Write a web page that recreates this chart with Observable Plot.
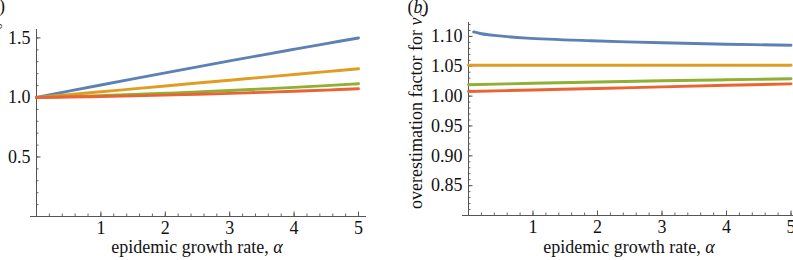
<!DOCTYPE html>
<html>
<head>
<meta charset="utf-8">
<script src="https://cdn.jsdelivr.net/npm/d3@7"></script>
<script src="https://cdn.jsdelivr.net/npm/@observablehq/plot@0.6"></script>
<style>
  body { margin: 0; background: #fff; }
  #fig { position: relative; width: 793px; height: 260px; overflow: hidden;
         font-family: "Liberation Serif", "Times New Roman", serif; }
  #fig svg { position: absolute; top: 0; overflow: visible; }
  #fig svg text { font-family: "Liberation Serif", "Times New Roman", serif !important; }
</style>
</head>
<body>
<div id="fig"></div>
<script>
// ---- data -------------------------------------------------------------
// panel (a): overestimation factor against epidemic growth rate
const alphaA   = [0, 0.5, 1, 1.5, 2, 2.5, 3, 3.5, 4, 4.5, 5];
const factorA1 = [1.000, 1.0527, 1.1048, 1.1563, 1.2072, 1.2575, 1.3072, 1.3563, 1.4048, 1.4527, 1.500];
const factorA2 = [1.000, 1.024, 1.048, 1.072, 1.096, 1.121, 1.145, 1.169, 1.193, 1.217, 1.241];
const factorA3 = [1.000, 1.0075, 1.0158, 1.0251, 1.0352, 1.0463, 1.0582, 1.0711, 1.0848, 1.0995, 1.115];
const factorA4 = [1.000, 1.0037, 1.0082, 1.0135, 1.0196, 1.0265, 1.0342, 1.0427, 1.052, 1.0621, 1.073];

// panel (b): overestimation factor for the critical vaccination coverage v_c
const alphaB1  = [0.08, 0.2, 0.4, 0.9, 1.9, 3, 4, 5];
const factorB1 = [1.1075, 1.1045, 1.1017, 1.0972, 1.0928, 1.0894, 1.0870, 1.0852];
const alphaB   = [0, 1, 2, 3, 4, 5];
const factorB2 = [1.0517, 1.0517, 1.0517, 1.0517, 1.0517, 1.0517];
const factorB3 = [1.0190, 1.0215, 1.0237, 1.0257, 1.0274, 1.0290];
const factorB4 = [1.0077, 1.0103, 1.0128, 1.0155, 1.0181, 1.0206];

const seriesNames  = ["curve 1", "curve 2", "curve 3", "curve 4"];
const seriesColors = ["#5E81B5", "#E19C24", "#8FB032", "#EB6235"];

// ---- ticks ------------------------------------------------------------
const xTicks  = [1, 2, 3, 4, 5];
const xMinor  = d3.range(1, 26).map(i => +(i * 0.2).toFixed(2));
const yTicksA = [0.5, 1.0, 1.5];
const yMinorA = d3.range(1, 16).map(i => +(i * 0.1).toFixed(2));
const yTicksB = [0.85, 0.90, 0.95, 1.00, 1.05, 1.10];
const yMinorB = d3.range(81, 113).map(i => +(i * 0.01).toFixed(2));

const toRows = (xs, ys, name) => xs.map((x, i) => ({alpha: x, value: ys[i], series: name}));

const rowsA = [
  ...toRows(alphaA, factorA1, seriesNames[0]),
  ...toRows(alphaA, factorA2, seriesNames[1]),
  ...toRows(alphaA, factorA3, seriesNames[2]),
  ...toRows(alphaA, factorA4, seriesNames[3])
];
const rowsB = [
  ...toRows(alphaB1, factorB1, seriesNames[0]),
  ...toRows(alphaB,  factorB2, seriesNames[1]),
  ...toRows(alphaB,  factorB3, seriesNames[2]),
  ...toRows(alphaB,  factorB4, seriesNames[3])
];

const serif = '"Liberation Serif", "Times New Roman", serif';
const axisColor = "#555";
const textColor = "#111";
const H = 260;

function panel(o) {
  const fw = o.width - o.marginLeft - o.marginRight;
  const fh = H - o.marginTop - o.marginBottom;
  return Plot.plot({
    width: o.width, height: H,
    marginLeft: o.marginLeft, marginRight: o.marginRight,
    marginTop: o.marginTop, marginBottom: o.marginBottom,
    style: {fontFamily: serif, fontSize: "18px",
            color: textColor, background: "transparent", overflow: "visible"},
    x: {domain: [0, 5]},
    y: {domain: o.yDomain},
    color: {domain: seriesNames, range: seriesColors},
    marks: [
      // axis lines, crossing at the origin
      Plot.ruleX([0], {stroke: axisColor, strokeWidth: 1, insetTop: o.axisTopInset}),
      Plot.ruleY([o.yDomain[0]], {stroke: axisColor, strokeWidth: 1, insetLeft: -6, insetRight: -8}),
      // inward tick marks
      Plot.tickX(xMinor, {x: d => d, stroke: axisColor, strokeWidth: 0.9, insetTop: fh - 2.5}),
      Plot.tickX(xTicks, {x: d => d, stroke: axisColor, strokeWidth: 1, insetTop: fh - 4.5}),
      Plot.tickY(o.yMinor, {y: d => d, stroke: axisColor, strokeWidth: 0.9, insetRight: fw - 2.5}),
      Plot.tickY(o.yTicks, {y: d => d, stroke: axisColor, strokeWidth: 1, insetRight: fw - 4.5}),
      // tick labels
      Plot.axisX({ticks: xTicks, tickSize: 0, tickPadding: 5, label: null, fontVariant: "normal",
                  tickFormat: d3.format("d"), fontFamily: serif, fontSize: 18, fill: textColor}),
      Plot.axisY({ticks: o.yTicks, tickSize: 0, tickPadding: 6, label: null, fontVariant: "normal",
                  tickFormat: d3.format(o.yFormat), fontFamily: serif, fontSize: 18, fill: textColor}),
      // curves
      Plot.line(o.rows, {x: "alpha", y: "value", z: "series", stroke: "series",
                         strokeWidth: 2.9, curve: "catmull-rom"})
    ]
  });
}

const fig = d3.select("#fig");

// panel (a)
const svgA = panel({
  width: 400, marginLeft: 36, marginRight: 42, marginTop: 29, marginBottom: 44,
  yDomain: [0, 1.571], yTicks: yTicksA, yMinor: yMinorA, yFormat: ".1f",
  axisTopInset: 0, rows: rowsA
});
svgA.style.left = "0px";
fig.node().appendChild(svgA);

// panel (b)
const svgB = panel({
  width: 393, marginLeft: 68, marginRight: 2.5, marginTop: 24, marginBottom: 45,
  yDomain: [0.80, 1.12], yTicks: yTicksB, yMinor: yMinorB, yFormat: ".2f",
  axisTopInset: -2, rows: rowsB
});
svgB.style.left = "400px";
fig.node().appendChild(svgB);

function xLabel(svg, cx, y) {
  const t = d3.select(svg).append("text")
    .attr("x", cx).attr("y", y).attr("text-anchor", "middle")
    .attr("fill", textColor).attr("font-size", 18);
  t.append("tspan").text("epidemic growth rate, ");
  t.append("tspan").attr("font-style", "italic").text("α");
}

function yLabel(svg, x, y, symbol, sub) {
  const t = d3.select(svg).append("text")
    .attr("transform", `translate(${x},${y}) rotate(-90)`)
    .attr("text-anchor", "middle")
    .attr("fill", textColor).attr("font-size", 18);
  t.append("tspan").text("overestimation factor for ");
  t.append("tspan").attr("font-style", "italic").text(symbol);
  t.append("tspan").attr("font-size", 12).attr("dx", 1).attr("dy", 4).text(sub);
}

function panelTag(svg, x, y, letter, anchor) {
  const t = d3.select(svg).append("text")
    .attr("x", x).attr("y", y).attr("text-anchor", anchor)
    .attr("fill", textColor).attr("font-size", 18);
  t.append("tspan").text("(");
  t.append("tspan").attr("font-style", "italic").text(letter);
  t.append("tspan").text(")");
}

xLabel(svgA, 197, 253);
xLabel(svgB, 229, 253);
yLabel(svgA, -2, 124, "R", "0");
yLabel(svgB, 22, 110, "v", "c");
panelTag(svgA, 5, 12, "a", "end");
panelTag(svgB, 18, 13, "b", "middle");
</script>
</body>
</html>
